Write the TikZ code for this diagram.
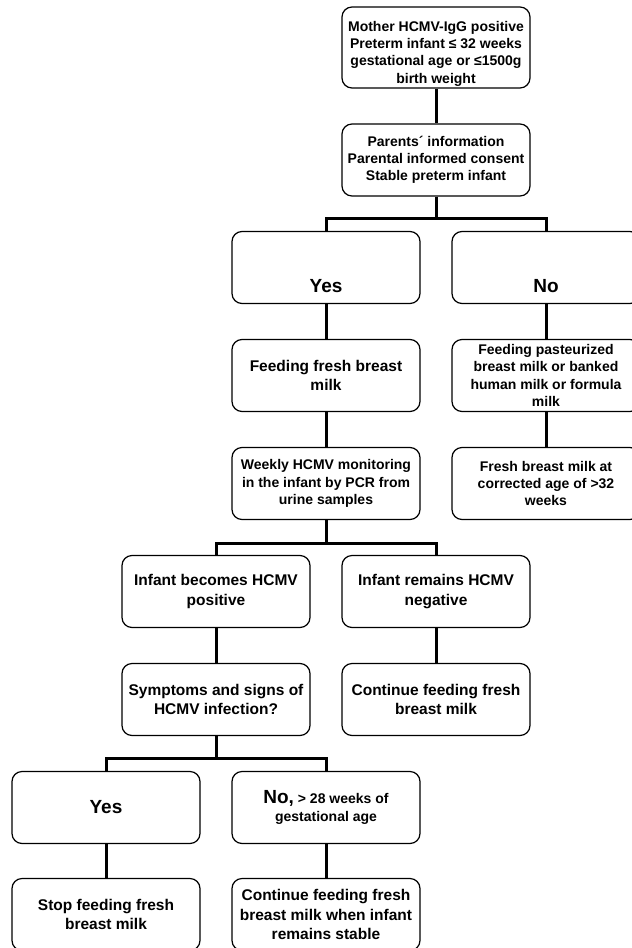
\documentclass[tikz,border=0pt]{standalone}
\usepackage{fontspec}
\setmainfont{Liberation Sans}
\usepackage{tikz}
\usetikzlibrary{positioning}
\newcommand\txtA{\fontsize{14}{17.3}\selectfont\bfseries}
\newcommand\txtB{\fontsize{15.5}{19.2}\selectfont\bfseries}
\newcommand\txtC{\fontsize{19}{23}\selectfont\bfseries}
\tikzstyle{link} = [line width=3pt]
\tikzstyle{stepbox} = [rectangle, rounded corners=10pt, draw=black, line width=1.2pt, minimum width=188pt, minimum height=72pt, inner sep=0pt, align=center, font=\txtA]
\tikzstyle{bigbox} = [stepbox, font=\txtB]
\tikzstyle{answer} = [stepbox, font=\txtC, text height=49pt, text depth=0pt]

\begin{document}
\begin{tikzpicture}[x=1pt, y=1pt, node distance=108pt]
\clip (0,0) rectangle (632,-948);
%----------------------------------------------------------------------------
% Placement of flowchart nodes
\node (mother) [stepbox, minimum height=81pt, text height=71pt, text depth=0pt] at (436,-47.5)
{Mother HCMV-IgG positive\\Preterm infant ≤ 32 weeks\\gestational age or ≤1500g\\birth weight};

\node (consent) [stepbox, below of = mother, node distance = 112.5pt]
{Parents´ information\\Parental informed consent\\Stable preterm infant};

\node (yesTop) [answer, below of = consent, node distance = 107.5pt, xshift = -110pt] {Yes};
\node (noTop) [answer, right of = yesTop, node distance = 220pt] {No};

\node (feedFresh) [bigbox, below of = yesTop] {Feeding fresh breast\\milk};
\node (feedPast) [stepbox, below of = noTop]
{Feeding pasteurized\\breast milk or banked\\human milk or formula\\milk};

\node (monitor) [stepbox, below of = feedFresh]
{Weekly HCMV monitoring\\in the infant by PCR from\\urine samples};
\node (freshLater) [stepbox, below of = feedPast]
{Fresh breast milk at\\corrected age of >32\\weeks};

\node (becomesPos) [bigbox, below of = monitor, xshift = -110pt] {Infant becomes HCMV\\positive};
\node (remainsNeg) [bigbox, right of = becomesPos, node distance = 220pt] {Infant remains HCMV\\negative};

\node (symptoms) [bigbox, below of = becomesPos] {Symptoms and signs of\\HCMV infection?};
\node (keepFeeding) [bigbox, below of = remainsNeg] {Continue feeding fresh\\breast milk};

\node (yesBottom) [stepbox, font=\txtC, below of = symptoms, xshift = -110pt] {Yes};
\node (noBottom) [stepbox, right of = yesBottom, node distance = 220pt]
{{\txtC No,} > 28 weeks of\\gestational age};

\node (stopFeed) [bigbox, below of = yesBottom, node distance = 107pt] {Stop feeding fresh\\breast milk};
\node (keepStable) [bigbox, below of = noBottom, node distance = 107pt]
{Continue feeding fresh\\breast milk when infant\\remains stable};

%----------------------------------------------------------------------------
% Straight lines
\draw [link] (mother) -- (consent);
\draw [link] (yesTop) -- (feedFresh);
\draw [link] (feedFresh) -- (monitor);
\draw [link] (noTop) -- (feedPast);
\draw [link] (feedPast) -- (freshLater);
\draw [link] (becomesPos) -- (symptoms);
\draw [link] (remainsNeg) -- (keepFeeding);
\draw [link] (yesBottom) -- (stopFeed);
\draw [link] (noBottom) -- (keepStable);

%----------------------------------------------------------------------------
% Branch lines
\draw [link] (consent.south) -- ++(0,-22) -| (yesTop.north);
\draw [link] (consent.south) -- ++(0,-22) -| (noTop.north);
\draw [link] (monitor.south) -- ++(0,-23) -| (becomesPos.north);
\draw [link] (monitor.south) -- ++(0,-23) -| (remainsNeg.north);
\draw [link] (symptoms.south) -- ++(0,-22) -| (yesBottom.north);
\draw [link] (symptoms.south) -- ++(0,-22) -| (noBottom.north);
\end{tikzpicture}
\end{document}
